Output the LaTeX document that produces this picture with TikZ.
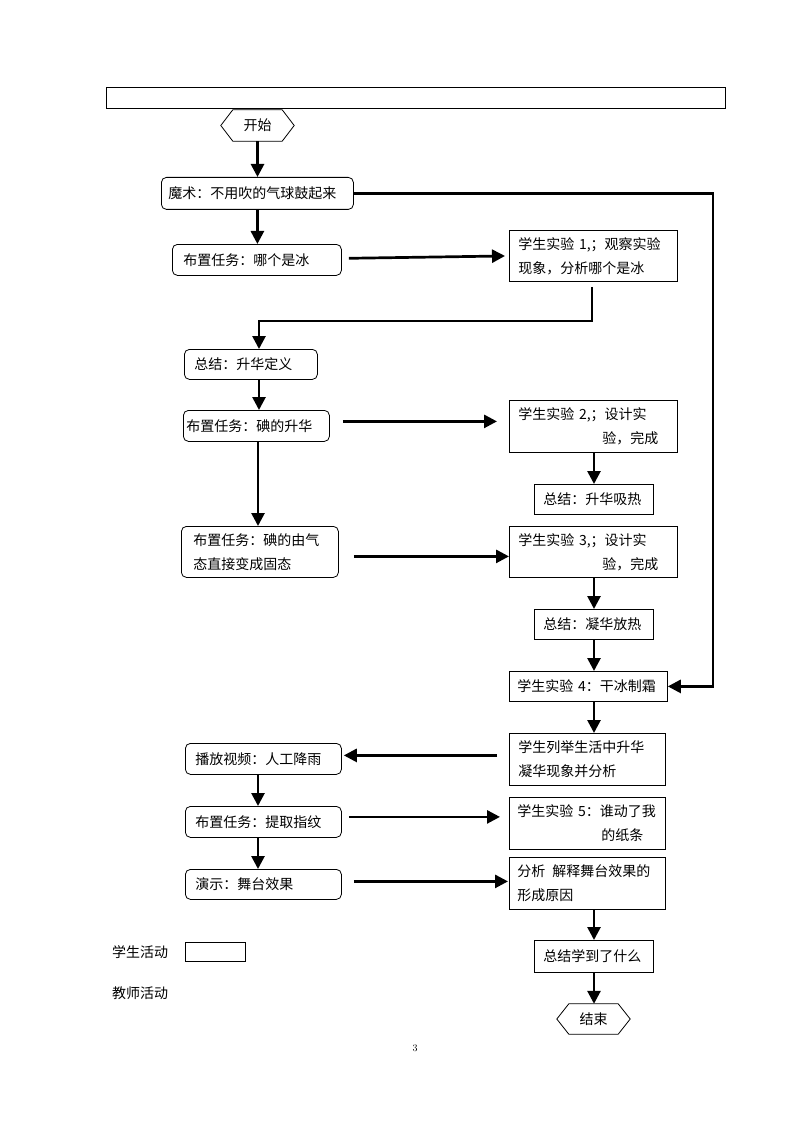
\documentclass[tikz,border=0pt]{standalone}
\usepackage{fontspec}
\newfontfamily\cjk{Noto Sans CJK SC}
\usetikzlibrary{arrows.meta}
\begin{document}
\begin{tikzpicture}[x=1pt,y=-1pt,
  box/.style={draw, line width=0.8pt, anchor=north west, align=left, inner xsep=9pt, inner ysep=0pt,
    font={\cjk\fontsize{14}{24}\selectfont}},
  rbox/.style={box, rounded corners=5pt},
  conn/.style={line width=2.7pt, -{Triangle[length=13pt,width=13pt]}},
  hexa/.style={inner sep=0pt, font={\cjk\fontsize{14}{24}\selectfont}, minimum width=49pt, minimum height=31pt},
  hexline/.style={line width=0.8pt},
  lbl/.style={anchor=west, inner sep=0pt, font={\cjk\fontsize{14}{24}\selectfont}}]
\useasboundingbox (0,0) rectangle (794,1123);

% banner
\node[draw, line width=0.8pt, anchor=north west, minimum width=619pt, minimum height=21pt, inner sep=0pt] (banner) at (106,87) {};

% start
\node[hexa] (start) at (257.5,125.5) {开始};
\draw[hexline] (start.north west) -- (start.north east) -- ([xshift=12pt]start.east) -- (start.south east)
  -- (start.south west) -- ([xshift=-12pt]start.west) -- cycle;

% left column
\node[rbox, inner xsep=7pt, text width=178pt, minimum height=32pt] (magic) at (161,177) {魔术：不用吹的气球鼓起来};
\node[rbox, inner xsep=11pt, text width=147pt, minimum height=31pt] (t1) at (172,244) {布置任务：哪个是冰};
\node[rbox, inner xsep=10pt, text width=113pt, minimum height=30pt] (sum1) at (184,349) {总结：升华定义};
\node[rbox, inner xsep=3pt, text width=140pt, minimum height=31pt] (t2) at (183,410) {布置任务：碘的升华};
\node[rbox, inner xsep=12pt, text width=133pt, minimum height=51pt] (t3) at (181,526) {布置任务：碘的由气\\态直接变成固态};
\node[rbox, inner xsep=10pt, text width=136pt, minimum height=31pt] (video) at (185,743) {播放视频：人工降雨};
\node[rbox, inner xsep=10pt, text width=136pt, minimum height=31pt] (t4) at (185,806) {布置任务：提取指纹};
\node[rbox, inner xsep=10pt, text width=136pt, minimum height=30pt] (show) at (185,869) {演示：舞台效果};

% right column
\node[box, text width=150pt, minimum height=51pt] (s1) at (509,230) {学生实验~1,；观察实验\\现象，分析哪个是冰};
\node[box, text width=150pt, minimum height=52pt] (s2) at (509,400) {学生实验~2,；设计实\\\hspace*{6em}验，完成};
\node[box, text width=101pt, minimum height=30pt] (sum2) at (534,484) {总结：升华吸热};
\node[box, text width=150pt, minimum height=51pt] (s3) at (509,526) {学生实验~3,；设计实\\\hspace*{6em}验，完成};
\node[box, text width=101pt, minimum height=30pt] (sum3) at (534,609) {总结：凝华放热};
\node[box, inner xsep=8pt, text width=142pt, minimum height=30pt] (s4) at (509,671) {学生实验~4：干冰制霜};
\node[box, text width=138pt, minimum height=52pt] (list) at (509,733) {学生列举生活中升华\\凝华现象并分析};
\node[box, inner xsep=8pt, text width=140pt, minimum height=52pt] (s5) at (509,797) {学生实验~5：谁动了我\\\hspace*{6em}的纸条};
\node[box, inner xsep=8pt, text width=140pt, minimum height=52pt] (ana) at (509,857) {分析\hspace{0.5em}解释舞台效果的\\形成原因};
\node[box, text width=101pt, minimum height=32pt] (sum4) at (534,940) {总结学到了什么};

% end
\node[hexa, minimum height=30pt] (end) at (593.5,1019) {结束};
\draw[hexline] (end.north west) -- (end.north east) -- ([xshift=12pt]end.east) -- (end.south east)
  -- (end.south west) -- ([xshift=-12pt]end.west) -- cycle;

% legend
\node[lbl] (lgs) at (112,952) {学生活动};
\node[draw, line width=0.8pt, anchor=north west, minimum width=60pt, minimum height=19pt, inner sep=0pt] (lgbox) at (185,942) {};
\node[lbl] (lgt) at (112,993) {教师活动};
\node[inner sep=0pt, font=\fontsize{10}{11}\selectfont] (page) at (415,1048) {3};

% helper coordinates
\coordinate (c1) at (259,321);
\coordinate (c2) at (594,0);
\coordinate (c3) at (258,0);
\coordinate (rc) at (713,0);

% connectors
\draw[conn] (start.south) -- (start.south |- magic.north);
\draw[conn, line join=miter] (magic.east) -- (magic.east -| rc) -- (s4.east -| rc) -- (s4.east);
\draw[conn] (magic.south) -- (magic.south |- t1.north);
\draw[conn, shorten <=7pt, shorten >=4pt] ([yshift=1.5pt]t1.east) -- (s1.west);
\draw[conn, shorten <=5pt, line join=miter] (s1.south -| 592,0) |- (c1) -- (c1 |- sum1.north);
\draw[conn] (c1 |- sum1.south) -- (c1 |- t2.north);
\draw[conn, shorten <=13pt, shorten >=12pt] ([yshift=4.5pt]t2.east) -- ([yshift=4.5pt]t2.east -| s2.west);
\draw[conn] (c2 |- s2.south) -- (c2 |- sum2.north);
\draw[conn] (c3 |- t2.south) -- (c3 |- t3.north);
\draw[conn, shorten <=15pt] ([yshift=-4.5pt]t3.east) -- ([yshift=-4.5pt]t3.east -| s3.west);
\draw[conn] (c2 |- s3.south) -- (c2 |- sum3.north);
\draw[conn] (c2 |- sum3.south) -- (c2 |- s4.north);
\draw[conn] (c2 |- s4.south) -- (c2 |- list.north);
\draw[conn, shorten <=12pt, shorten >=2pt] ([yshift=4pt]list.west) -- ([yshift=4pt]list.west -| video.east);
\draw[conn] (c3 |- video.south) -- (c3 |- t4.north);
\draw[conn, shorten <=7pt, shorten >=9pt] ([yshift=5pt]t4.east) -- ([yshift=5pt]t4.east -| s5.west);
\draw[conn] (c3 |- t4.south) -- (c3 |- show.north);
\draw[conn, shorten <=12pt, shorten >=1pt] ([yshift=3pt]show.east) -- ([yshift=3pt]show.east -| ana.west);
\draw[conn] (c2 |- ana.south) -- (c2 |- sum4.north);
\draw[conn] (c2 |- sum4.south) -- (c2 |- end.north);
\end{tikzpicture}
\end{document}
